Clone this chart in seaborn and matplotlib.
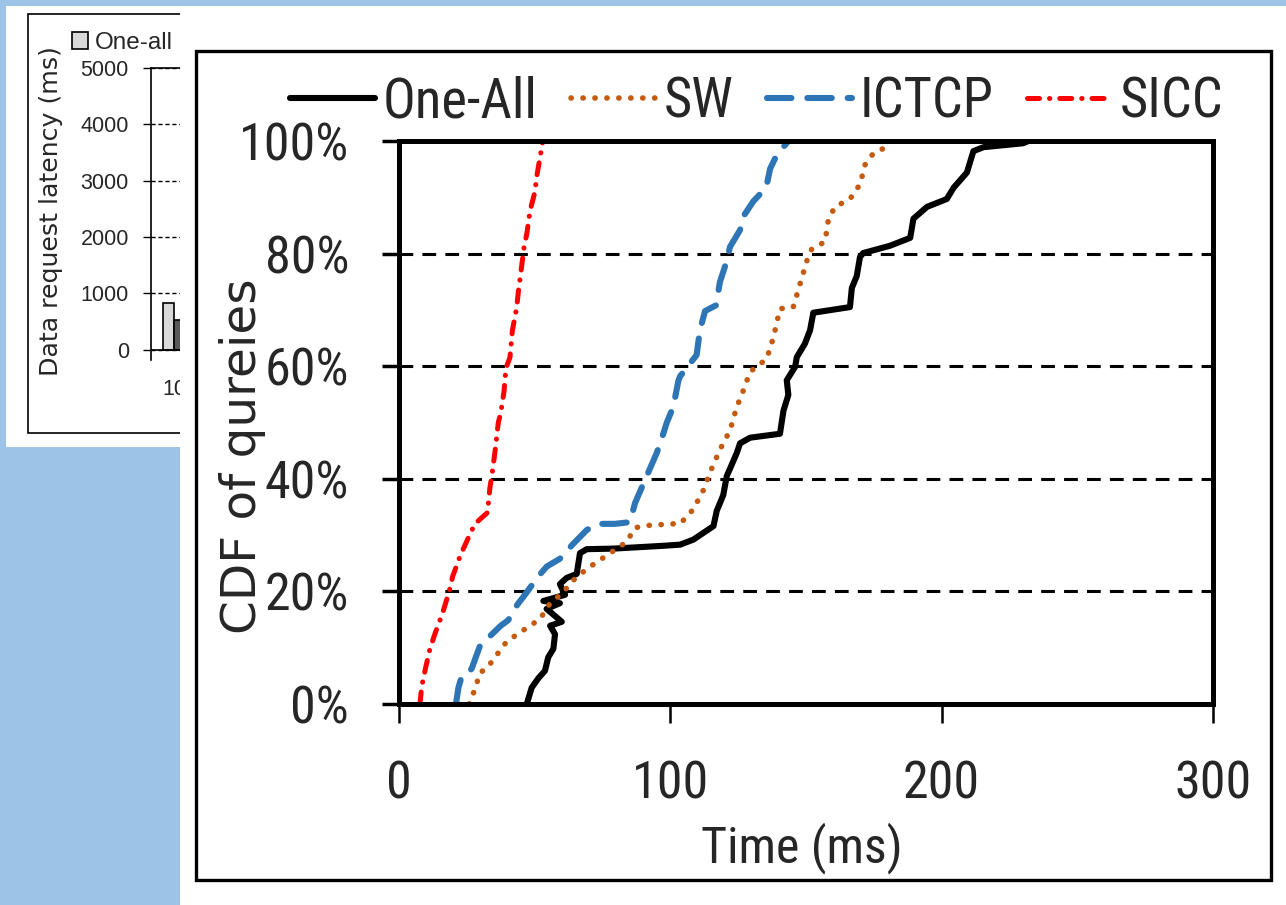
import os
import numpy as np
import pandas as pd
import matplotlib
matplotlib.use("Agg")
import matplotlib.pyplot as plt
import seaborn as sns
from matplotlib.patches import Rectangle
from matplotlib import font_manager
from matplotlib.font_manager import FontProperties

# ---------------- data: main CDF chart ----------------
one_all_time = [47.1, 48.9, 51.4, 53.8, 55.0, 56.9, 57.5, 55.7, 60.0, 54.4, 59.3, 53.2, 61.2,
                59.3, 61.8, 65.5, 66.7, 69.2, 79.0, 97.4, 103.6, 108.5, 115.9, 117.1, 119.5,
                120.8, 122.0, 124.5, 125.7, 129.4, 140.4, 141.7, 143.5, 142.9, 146.0, 146.6,
                149.6, 151.5, 152.7, 166.2, 166.9, 168.7, 169.9, 171.1, 181.0, 188.4, 189.6,
                194.6, 201.9, 204.4, 209.3, 211.7, 215.4, 230.0, 232.0]
one_all_cdf = [0, 2.9, 4.6, 5.9, 8.3, 9.8, 12.4, 13.9, 14.6, 16.9, 17.9, 18.3, 19.4,
               21.3, 22.4, 23.1, 26.8, 27.5, 27.6, 28.1, 28.3, 29.2, 31.6, 34.3, 37.1,
               40.5, 41.8, 44.6, 46.3, 47.3, 48.0, 52.1, 54.9, 57.5, 59.9, 61.6,
               64.0, 66.4, 69.5, 70.5, 73.9, 76.0, 79.4, 80.1, 81.4, 82.8, 86.2,
               88.3, 89.7, 91.7, 94.4, 98.2, 98.9, 99.6, 100]

sw_time = [25.9, 27.4, 28.6, 29.9, 32.3, 36.0, 39.7, 45.8, 52.0, 55.7, 60.0, 64.3, 69.2,
           77.8, 83.9, 87.0, 91.3, 101.1, 103.6, 108.5, 112.2, 114.6, 118.3, 122.0, 124.5,
           126.3, 129.4, 135.5, 138.0, 140.4, 145.3, 147.8, 150.3, 152.1, 157.0, 158.3,
           160.7, 166.2, 169.9, 171.8, 174.8, 179.1, 181.0]
sw_cdf = [0, 1.9, 3.6, 5.6, 6.3, 8.7, 11.1, 13.1, 15.1, 17.9, 19.6, 22.0, 24.0,
          26.8, 28.8, 31.3, 31.7, 32.0, 32.0, 34.6, 38.0, 41.1, 45.2, 48.6, 52.8,
          54.9, 59.0, 61.3, 65.1, 70.2, 70.5, 74.6, 78.7, 80.8, 82.1, 86.2,
          88.3, 89.7, 92.3, 95.8, 97.8, 98.8, 100]

ictcp_time = [21.0, 21.9, 23.1, 25.2, 26.8, 28.6, 29.9, 32.1, 37.5, 40.3, 42.1, 44.0, 45.8,
              51.4, 54.4, 59.3, 64.3, 69.2, 72.9, 79.6, 85.1, 87.0, 91.3, 95.0, 97.4, 98.7,
              101.1, 103.0, 103.6, 109.7, 110.9, 112.8, 116.8, 118.3, 120.8, 122.0, 125.7,
              126.9, 130.6, 135.3, 136.8, 139.2, 143.5]
ictcp_cdf = [0, 2.9, 4.9, 5.3, 6.3, 8.7, 10.4, 11.4, 13.9, 14.9, 16.6, 17.9, 19.0,
             22.7, 24.4, 25.8, 28.5, 30.9, 32.0, 32.0, 32.3, 35.7, 40.5, 44.6, 48.0, 50.0,
             52.8, 57.5, 58.2, 62.0, 66.4, 69.8, 70.8, 75.0, 78.7, 81.2, 84.2,
             86.6, 89.3, 91.7, 95.1, 97.5, 100]

sicc_time = [7.7, 8.4, 9.8, 11.4, 13.2, 16.1, 18.5, 19.8, 22.7, 26.2, 28.0, 32.6, 33.5,
             34.2, 35.4, 36.6, 37.5, 38.7, 39.4, 40.9, 41.8, 43.4, 44.0, 45.0, 46.1,
             47.1, 48.3, 50.1, 50.8, 52.3, 53.0]
sicc_cdf = [0, 3.2, 6.4, 9.8, 12.4, 16.2, 20.0, 22.7, 26.5, 30.2, 32.0, 34.0, 38.4,
            40.5, 44.9, 50.0, 51.7, 55.5, 59.6, 61.6, 66.4, 70.5, 73.3, 77.0, 81.2,
            83.5, 87.6, 91.0, 93.8, 98.0, 100]

series_names = ["One-All", "SW", "ICTCP", "SICC"]
x_ticks = [0, 100, 200, 300]
y_ticks = [0, 20, 40, 60, 80, 100]

# ---------------- data: partially hidden bar chart behind ----------------
bar_groups = ["10", "10"]
bar_series = ["One-all", "SW"]
bar_latency = [830, 530]
bar_y_ticks = [0, 1000, 2000, 3000, 4000, 5000]

# ---------------- setup ----------------
W, H = 1286, 905
def fx(px):
    return px / W
def fy(py):
    return 1 - py / H

sns.set_theme(style="white")
plt.rcParams["font.family"] = ["Liberation Sans", "DejaVu Sans"]


def pick_condensed():
    bad = ("bold", "italic", "light", "thin", "medium", "black", "semibold", "oblique",
           "heavy", "extrabold", "[")
    ranked = []
    for f in font_manager.fontManager.ttflist:
        fn = os.path.basename(f.fname).lower()
        if f.style != "normal" or any(b in fn for b in bad):
            continue
        if not ("narrow" in fn or "condensed" in fn):
            continue
        if "liberationsansnarrow" in fn:
            r = 0
        elif "robotocondensed" in fn:
            r = 1
        elif "semicondensed" in fn or "semi" in fn:
            r = 6
        elif "extracondensed" in fn or "extra" in fn:
            r = 7
        elif "noto" in fn:
            r = 2
        elif "opensans" in fn:
            r = 3
        else:
            r = 5
        ranked.append((r, f.fname))
    if ranked:
        ranked.sort()
        return FontProperties(fname=ranked[0][1])
    return FontProperties(family="Liberation Sans")


FP_MAIN = pick_condensed()
FP_ROT = FontProperties(family="DejaVu Sans")

fig = plt.figure(figsize=(W / 100, H / 100), dpi=100, facecolor="#9DC3E6")
renderer = fig.canvas.get_renderer()


def fit_size(text, fp, target_px, max_pt=None):
    p = fp.copy()
    p.set_size(100)
    t = fig.text(0, 0, text, fontproperties=p)
    w = t.get_window_extent(renderer).width
    t.remove()
    s = 100 * target_px / w
    if max_pt is not None:
        s = min(s, max_pt)
    return s


tick_pt = fit_size("100%", FP_MAIN, 110, max_pt=40)
xlab_pt = fit_size("Time (ms)", FP_MAIN, 202, max_pt=40)
leg_pt = fit_size("One-All", FP_MAIN, 155, max_pt=41)
ylab_pt = fit_size("CDF of qureies", FP_ROT, 355)
bylab_pt = fit_size("Data request latency (ms)", FP_ROT, 330)


def fp_at(fp, size):
    p = fp.copy()
    p.set_size(size)
    return p


# ---- behind chart panel ----
fig.patches.append(Rectangle((fx(6), fy(447)), fx(180 - 6), (447 - 6) / H,
                             transform=fig.transFigure, facecolor="white",
                             edgecolor="none", zorder=-2))
fig.patches.append(Rectangle((fx(28), fy(433)), fx(600 - 28), (433 - 14) / H,
                             transform=fig.transFigure, fill=False,
                             edgecolor="black", lw=1.2, zorder=-1))

ax_b = fig.add_axes([fx(151), fy(360), fx(400 - 151), (360 - 68) / H], zorder=0)
ax_b.set_facecolor("none")
bar_df = pd.DataFrame({"group": bar_groups, "series": bar_series, "latency": bar_latency})
sns.barplot(data=bar_df, x="group", y="latency", hue="series", hue_order=bar_series,
            palette=["#D9D9D9", "#595959"], edgecolor="black", linewidth=1.2,
            width=0.8, ax=ax_b)
ax_b.set_xlim(-0.8, 7.86)
ax_b.set_ylim(-180, 5000)
ax_b.set_yticks(bar_y_ticks)
ax_b.set_yticklabels([str(v) for v in bar_y_ticks], fontsize=15.5)
ax_b.tick_params(axis="y", direction="out", length=6, width=1, color="black",
                 left=True, pad=10)
ax_b.tick_params(axis="x", length=0, pad=14, labelsize=15.5)
ax_b.set_xlabel("")
ax_b.yaxis.grid(True, linestyle=(0, (3, 2)), color="black", lw=1)
ax_b.set_axisbelow(True)
ax_b.axhline(0, color="black", lw=1.2)
for s in ["right", "bottom"]:
    ax_b.spines[s].set_visible(False)
for s in ["left", "top"]:
    ax_b.spines[s].set_color("black")
    ax_b.spines[s].set_linewidth(1.2)
ax_b.set_ylabel("Data request latency (ms)", fontproperties=fp_at(FP_ROT, bylab_pt))
ax_b.yaxis.set_label_coords(-0.402, 0.51)
ax_b.yaxis.label.set_va("center")
ax_b.legend(loc="center left", bbox_to_anchor=(fx(72), fy(43)),
            bbox_transform=fig.transFigure, ncol=2, frameon=False, borderpad=0,
            borderaxespad=0, handlelength=0.65, handleheight=0.65,
            handletextpad=0.3, columnspacing=1.0, fontsize=17.5)

# ---- main chart panel ----
fig.patches.append(Rectangle((fx(180), 0), fx(W - 180), (905 - 6) / H,
                             transform=fig.transFigure, facecolor="white",
                             edgecolor="none", zorder=0.5))
fig.patches.append(Rectangle((fx(196), fy(880)), fx(1271 - 196), (880 - 51) / H,
                             transform=fig.transFigure, fill=False,
                             edgecolor="black", lw=2.4, zorder=0.6))

ax = fig.add_axes([fx(399), fy(704), fx(1213 - 399), (704 - 141) / H], zorder=1)
ax.set_facecolor("white")

styles = [
    (one_all_time, one_all_cdf, "black", 4.4, None),
    (sw_time, sw_cdf, "#C55A11", 4.0, (0.05, 2.1)),
    (ictcp_time, ictcp_cdf, "#2E75B6", 4.4, (4.0, 2.6)),
    (sicc_time, sicc_cdf, "#FF0000", 3.6, (2.4, 2.0, 0.05, 2.0)),
]
for name, (xs, ys, col, lw, dash) in zip(series_names, styles):
    sns.lineplot(x=xs, y=ys, sort=False, estimator=None, color=col, lw=lw,
                 label=name, ax=ax, zorder=3)
    ln = ax.lines[-1]
    if dash is None:
        ln.set_solid_capstyle("round")
        ln.set_solid_joinstyle("round")
    else:
        ln.set_dashes(dash)
        ln.set_dash_capstyle("round")
        ln.set_dash_joinstyle("round")

ax.set_xlim(0, 300)
ax.set_ylim(0, 100)
ax.set_xticks(x_ticks)
ax.set_xticklabels([str(v) for v in x_ticks], fontproperties=fp_at(FP_MAIN, tick_pt))
ax.set_yticks(y_ticks)
ax.set_yticklabels([f"{v}%" for v in y_ticks], fontproperties=fp_at(FP_MAIN, tick_pt))
ax.tick_params(axis="y", direction="out", length=12, width=2.5, color="black",
               left=True, pad=24)
ax.tick_params(axis="x", direction="out", length=14, width=1.8, color="black",
               bottom=True, pad=26)
for v in y_ticks[1:-1]:
    ax.axhline(v, color="black", lw=2.2, dashes=(4.5, 3.0), zorder=2)
for s in ax.spines.values():
    s.set_color("black")
    s.set_linewidth(3.6)
    s.set_zorder(4)

ax.set_xlabel("Time (ms)", fontproperties=fp_at(FP_MAIN, xlab_pt))
ax.xaxis.set_label_coords(0.495, -0.256)
ax.xaxis.label.set_va("center")
ax.set_ylabel("CDF of qureies", fontproperties=fp_at(FP_ROT, ylab_pt))
ax.yaxis.set_label_coords(-0.192, 0.44)
ax.yaxis.label.set_va("center")

leg_px = leg_pt * 100 / 72
handles, labels = ax.get_legend_handles_labels()
ax.legend(handles, labels, loc="center left", bbox_to_anchor=(fx(290), fy(102)),
          bbox_transform=fig.transFigure, ncol=4, frameon=False, borderpad=0,
          borderaxespad=0, handlelength=85 / leg_px, handletextpad=8 / leg_px,
          columnspacing=33 / leg_px, prop=fp_at(FP_MAIN, leg_pt))

fig.savefig("out.png", dpi=100, facecolor=fig.get_facecolor())
